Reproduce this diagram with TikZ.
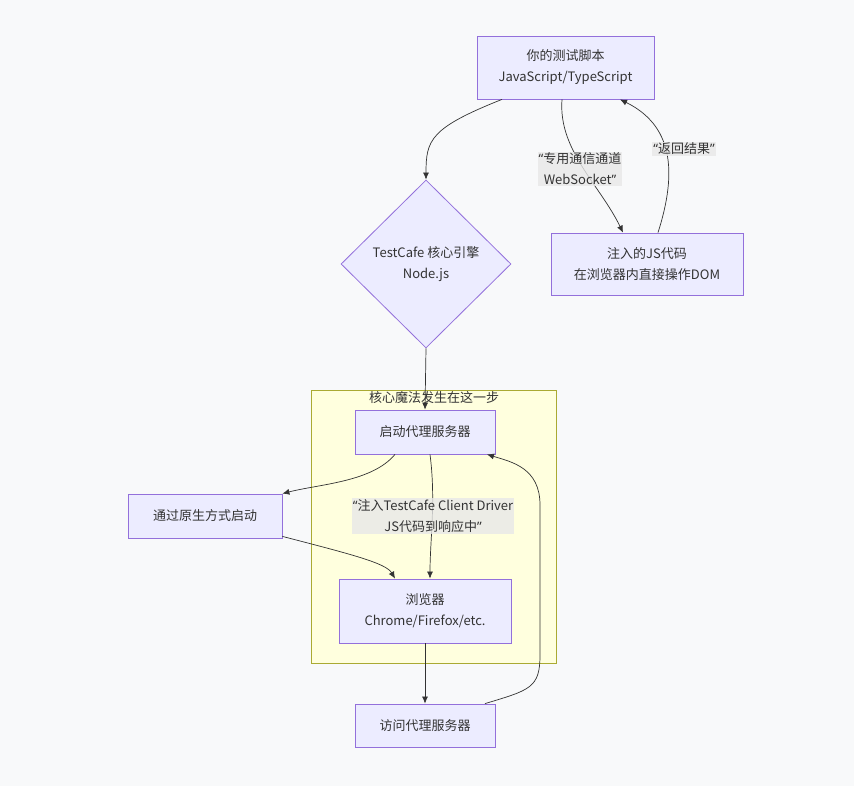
\documentclass[tikz,border=0pt]{standalone}
\usepackage{fontspec}
\setmainfont{Noto Sans CJK SC}
\newfontfamily\latino{Noto Sans}
\usepackage{tikz}
\usetikzlibrary{arrows.meta,shapes.geometric,positioning}
\usepackage{xcolor}
\definecolor{sfondo}{HTML}{F8F9FA}
\definecolor{riempi}{HTML}{ECECFF}
\definecolor{bordo}{HTML}{9370DB}
\definecolor{gruppo}{HTML}{FFFFDE}
\definecolor{bordogruppo}{HTML}{AAAA33}
\definecolor{linea}{HTML}{333333}
\definecolor{testo}{HTML}{333333}
\definecolor{etich}{HTML}{E8E8E8}
\newcommand{\apri}{{\latino “}}
\newcommand{\chiudi}{{\latino ”}}

\begin{document}
\begin{tikzpicture}[x=1pt, y=-1pt, font=\fontsize{13}{21}\selectfont, text=testo,
  blocco/.style={draw=bordo, fill=riempi, line width=0.8pt, align=center, inner sep=0pt},
  rombo/.style={blocco, diamond, aspect=1},
  freccia/.style={draw=linea, line width=0.7pt, -{Latex[length=7pt,width=6pt]}},
  etichetta/.style={fill=etich, fill opacity=0.8, text opacity=1, align=center, inner sep=1pt}]
% sfondo e riquadro
\fill[sfondo] (0,0) rectangle (854,786);
\draw[fill=gruppo, draw=bordogruppo, line width=0.8pt] (311,390) rectangle (556,663);
\node (titolo) at (434,398) {核心魔法发生在这一步};
% nodi
\node[blocco, minimum width=177pt, minimum height=63pt] (script) at (565.5,67.5) {你的测试脚本\\JavaScript/TypeScript};
\node[blocco, minimum width=192pt, minimum height=62pt] (iniettato) at (647,264) {注入的JS代码\\在浏览器内直接操作DOM};
\node[rombo, minimum width=170pt, minimum height=168pt] (motore) at (426,264) {TestCafe 核心引擎\\Node.js};
\node[blocco, minimum width=140pt, minimum height=44pt] (proxy) at (425,432) {启动代理服务器};
\node[blocco, minimum width=154pt, minimum height=44pt] (nativo) at (205,516) {通过原生方式启动};
\node[blocco, minimum width=172pt, minimum height=64pt] (browser) at (425,611) {浏览器\\Chrome/Firefox/etc.};
\node[blocco, minimum width=140pt, minimum height=43pt] (visita) at (425,725.5) {访问代理服务器};
% frecce
\draw[freccia] ([xshift=-63.5pt]script.south) .. controls (430,128) and (426,140) .. (motore.north);
\draw[freccia] ([xshift=-3.5pt]script.south) .. controls (558,150) and (600,185) .. ([xshift=-24pt]iniettato.north);
\draw[freccia] ([xshift=11pt]iniettato.north) .. controls (678,170) and (672,125) .. ([xshift=54.5pt]script.south);
\draw[freccia] (motore.south) -- (proxy.north);
\draw[freccia] ([xshift=-30pt]proxy.south) .. controls (372,482) and (320,484) .. (nativo.north east);
\draw[freccia] ([xshift=5pt]proxy.south) .. controls (436,500) and (430,540) .. ([xshift=5pt]browser.north);
\draw[freccia] ([yshift=2pt]nativo.south east) .. controls (350,554) and (386,563) .. ([xshift=-30pt]browser.north);
\draw[freccia] (browser.south) -- (visita.north);
\draw[freccia] ([xshift=60pt]visita.north) .. controls (530,690) and (540,688) .. (540,655)
  -- (540,505) .. controls (540,468) and (512,462) .. ([xshift=62pt]proxy.south);
% etichette delle frecce
\node[etichetta] (ws) at (580,169) {\apri 专用通信通道\\WebSocket\chiudi};
\node[etichetta] (ritorno) at (684,149) {\apri 返回结果\chiudi};
\node[etichetta] (driver) at (433,516) {\apri 注入TestCafe Client Driver\\JS代码到响应中\chiudi};
\end{tikzpicture}
\end{document}
